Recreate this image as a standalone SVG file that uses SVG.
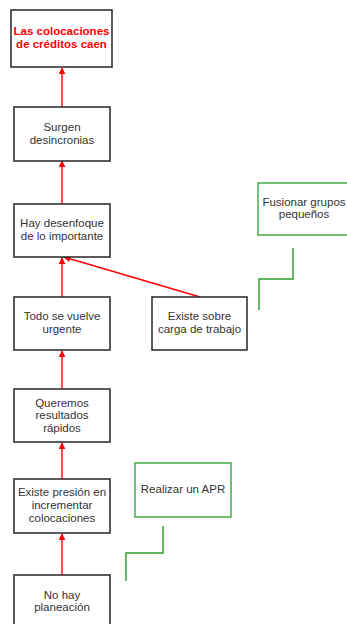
<svg xmlns="http://www.w3.org/2000/svg" width="347" height="624" viewBox="0 0 347 624">
<style>
.box{fill:#fff;stroke:#333;stroke-width:1.6}
.gbox{fill:#fff;stroke:#3aa53a;stroke-width:1.4}
.t{font-family:"Liberation Sans",Arial,sans-serif;font-size:11.5px;fill:#333;text-anchor:middle}
.title{font-family:"Liberation Sans",Arial,sans-serif;font-size:11.5px;font-weight:bold;fill:#f00;text-anchor:middle}
.edge{stroke:#f00;stroke-width:1.4;fill:none}
.gedge{stroke:#2a9a2a;stroke-width:1.4;fill:none}
</style>
<defs>
<marker id="ah" viewBox="0 0 10 10" refX="9" refY="5" markerWidth="7" markerHeight="7" markerUnits="userSpaceOnUse" orient="auto">
<path d="M0,0 L10,5 L0,10 Z" fill="#f00"/>
</marker>
</defs>
<rect width="347" height="624" fill="#fff"/>
<g id="connectors">
<line class="edge" x1="62" y1="107" x2="62" y2="68" marker-end="url(#ah)"/>
<line class="edge" x1="62" y1="204" x2="62" y2="161" marker-end="url(#ah)"/>
<line class="edge" x1="62" y1="297" x2="62" y2="258" marker-end="url(#ah)"/>
<line class="edge" x1="200" y1="297" x2="64" y2="257" marker-end="url(#ah)"/>
<line class="edge" x1="62" y1="389" x2="62" y2="351" marker-end="url(#ah)"/>
<line class="edge" x1="62" y1="479" x2="62" y2="443" marker-end="url(#ah)"/>
<line class="edge" x1="62" y1="575" x2="62" y2="534" marker-end="url(#ah)"/>
<polyline class="gedge" points="293,248 293,279 259,279 259,310"/>
<polyline class="gedge" points="163,526 163,553 126,553 126,581"/>
</g>
<g id="n1">
<rect class="box" x="11" y="10" width="101" height="57"/>
<text class="title" x="61.5" y="35">Las colocaciones</text>
<text class="title" x="61.5" y="48">de créditos caen</text>
</g>
<g id="n2">
<rect class="box" x="14" y="107" width="96" height="54"/>
<text class="t" x="62" y="131">Surgen</text>
<text class="t" x="62" y="144">desincronias</text>
</g>
<g id="n3">
<rect class="box" x="14" y="204" width="96" height="53"/>
<text class="t" x="62" y="227">Hay desenfoque</text>
<text class="t" x="62" y="240">de lo importante</text>
</g>
<g id="n4">
<rect class="box" x="14" y="297" width="96" height="53"/>
<text class="t" x="62" y="320">Todo se vuelve</text>
<text class="t" x="62" y="333">urgente</text>
</g>
<g id="n5">
<rect class="box" x="152" y="297" width="95" height="53"/>
<text class="t" x="199.5" y="320">Existe sobre</text>
<text class="t" x="199.5" y="333">carga de trabajo</text>
</g>
<g id="n6">
<rect class="gbox" x="258" y="183" width="92" height="52"/>
<text class="t" x="304" y="206">Fusionar grupos</text>
<text class="t" x="304" y="218">pequeños</text>
</g>
<g id="n7">
<rect class="box" x="14" y="389" width="96" height="53"/>
<text class="t" x="62" y="407">Queremos</text>
<text class="t" x="62" y="419">resultados</text>
<text class="t" x="62" y="432">rápidos</text>
</g>
<g id="n8">
<rect class="box" x="14" y="479" width="96" height="54"/>
<text class="t" x="62" y="496">Existe presión en</text>
<text class="t" x="62" y="509">incrementar</text>
<text class="t" x="62" y="522">colocaciones</text>
</g>
<g id="n9">
<rect class="gbox" x="135" y="463" width="96" height="54"/>
<text class="t" x="183" y="493">Realizar un APR</text>
</g>
<g id="n10">
<rect class="box" x="14" y="575" width="96" height="60"/>
<text class="t" x="62" y="599">No hay</text>
<text class="t" x="62" y="611">planeación</text>
</g>
</svg>
